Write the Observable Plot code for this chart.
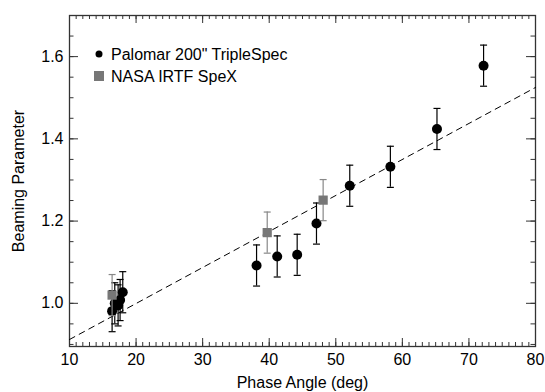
<!DOCTYPE html>
<html>
<head>
<meta charset="utf-8">
<script src="https://cdn.jsdelivr.net/npm/d3@7"></script>
<script src="https://cdn.jsdelivr.net/npm/@observablehq/plot@0.6"></script>
<style>
  html, body { margin: 0; padding: 0; background: #fff; }
  #chart { position: relative; width: 545px; height: 392px; }
  svg { font-family: "Liberation Sans", Arial, Helvetica, sans-serif; }
</style>
</head>
<body>
<div id="chart"></div>
<script>
// Palomar 200" TripleSpec
const palomarAngle   = [16.4, 16.8, 17.3, 17.6, 18.0, 38.1, 41.2, 44.2, 47.1, 52.1, 58.2, 65.2, 72.2];
const palomarBeaming = [0.981, 1.0, 0.995, 1.008, 1.027, 1.092, 1.114, 1.118, 1.194, 1.286, 1.332, 1.424, 1.578];
const palomarError   = [0.05, 0.05, 0.05, 0.05, 0.05, 0.05, 0.05, 0.05, 0.05, 0.05, 0.05, 0.05, 0.05];
// NASA IRTF SpeX
const spexAngle   = [16.4, 39.7, 48.1];
const spexBeaming = [1.02, 1.172, 1.251];
const spexError   = [0.05, 0.05, 0.05];
// linear fit (dashed)
const fitAngle   = [10, 80];
const fitBeaming = [0.912, 1.525];
// axes
const xDomain = [10, 80];
const yDomain = [0.895, 1.70];
const xMajor = [10, 20, 30, 40, 50, 60, 70, 80];
const yMajor = [1.0, 1.2, 1.4, 1.6];
const xMinor = d3.range(10, 81, 1);
const yMinor = d3.range(0.9, 1.701, 0.05);
const legendLabels = ['Palomar 200" TripleSpec', 'NASA IRTF SpeX'];

const palomar = palomarAngle.map((a, i) => ({angle: a, beaming: palomarBeaming[i], err: palomarError[i]}));
const spex = spexAngle.map((a, i) => ({angle: a, beaming: spexBeaming[i], err: spexError[i]}));
const fit = fitAngle.map((a, i) => ({angle: a, beaming: fitBeaming[i]}));

const W = 545, H = 392, mL = 69, mR = 10, mT = 15, mB = 46;
const plotW = W - mL - mR, plotH = H - mT - mB;
const capSymbol = {draw(ctx) { ctx.moveTo(-3.5, 0); ctx.lineTo(3.5, 0); }};
const frameColor = "#333";
const fontSize = 16;

const plot = Plot.plot({
  width: W,
  height: H,
  marginLeft: mL,
  marginRight: mR,
  marginTop: mT,
  marginBottom: mB,
  style: {fontSize: fontSize + "px", fontFamily: '"Liberation Sans", Arial, sans-serif', color: "#000", background: "#fff"},
  x: {domain: xDomain},
  y: {domain: yDomain},
  marks: [
    // inward ticks
    Plot.tickX(xMinor, {x: d => d, insetTop: plotH - 4, stroke: frameColor}),
    Plot.tickX(xMinor, {x: d => d, insetBottom: plotH - 4, stroke: frameColor}),
    Plot.tickX(xMajor, {x: d => d, insetTop: plotH - 8, stroke: frameColor}),
    Plot.tickX(xMajor, {x: d => d, insetBottom: plotH - 8, stroke: frameColor}),
    Plot.tickY(yMinor, {y: d => d, insetRight: plotW - 4.5, stroke: frameColor}),
    Plot.tickY(yMinor, {y: d => d, insetLeft: plotW - 4.5, stroke: frameColor}),
    Plot.tickY(yMajor, {y: d => d, insetRight: plotW - 9, stroke: frameColor}),
    Plot.tickY(yMajor, {y: d => d, insetLeft: plotW - 9, stroke: frameColor}),
    // labels
    Plot.axisX(xMajor, {anchor: "bottom", tickSize: 0, tickPadding: 7, tickFormat: d3.format("d"), fill: "#000",
      label: "Phase Angle (deg)", labelAnchor: "center", labelArrow: "none", labelOffset: 41}),
    Plot.axisY(yMajor, {anchor: "left", tickSize: 0, tickPadding: 6, tickFormat: d3.format(".1f"), fill: "#000",
      label: "Beaming Parameter", labelAnchor: "center", labelArrow: "none", labelOffset: 57}),
    Plot.frame({stroke: frameColor, strokeWidth: 1.3}),
    // fit line
    Plot.line(fit, {x: "angle", y: "beaming", stroke: "#000", strokeWidth: 1, strokeDasharray: "6,5"}),
    // Palomar error bars + points
    Plot.ruleX(palomar, {x: "angle", y1: d => d.beaming - d.err, y2: d => d.beaming + d.err, stroke: "#000", strokeWidth: 1.2}),
    Plot.dot(palomar, {x: "angle", y: d => d.beaming - d.err, symbol: capSymbol, stroke: "#000", strokeWidth: 1.2, r: 3}),
    Plot.dot(palomar, {x: "angle", y: d => d.beaming + d.err, symbol: capSymbol, stroke: "#000", strokeWidth: 1.2, r: 3}),
    Plot.dot(palomar, {x: "angle", y: "beaming", r: 5, fill: "#000"}),
    // SpeX error bars + points
    Plot.ruleX(spex, {x: "angle", y1: d => d.beaming - d.err, y2: d => d.beaming + d.err, stroke: "#888", strokeWidth: 1.2}),
    Plot.dot(spex, {x: "angle", y: d => d.beaming - d.err, symbol: capSymbol, stroke: "#888", strokeWidth: 1.2, r: 3}),
    Plot.dot(spex, {x: "angle", y: d => d.beaming + d.err, symbol: capSymbol, stroke: "#888", strokeWidth: 1.2, r: 3}),
    Plot.dot(spex, {x: "angle", y: "beaming", symbol: "square", r: 5.2, fill: "#777"})
  ]
});

document.getElementById("chart").appendChild(plot);

// legend inside plot area
const svg = d3.select(plot);
const lg = svg.append("g").attr("font-size", fontSize).attr("fill", "#000").attr("text-anchor", "start");
lg.append("circle").attr("cx", 99).attr("cy", 54).attr("r", 3.5).attr("fill", "#000");
lg.append("text").attr("x", 111).attr("y", 54).attr("dy", "0.35em").text(legendLabels[0]);
lg.append("rect").attr("x", 94).attr("y", 71).attr("width", 10).attr("height", 10).attr("fill", "#777");
lg.append("text").attr("x", 111).attr("y", 76).attr("dy", "0.35em").text(legendLabels[1]);
</script>
</body>
</html>
